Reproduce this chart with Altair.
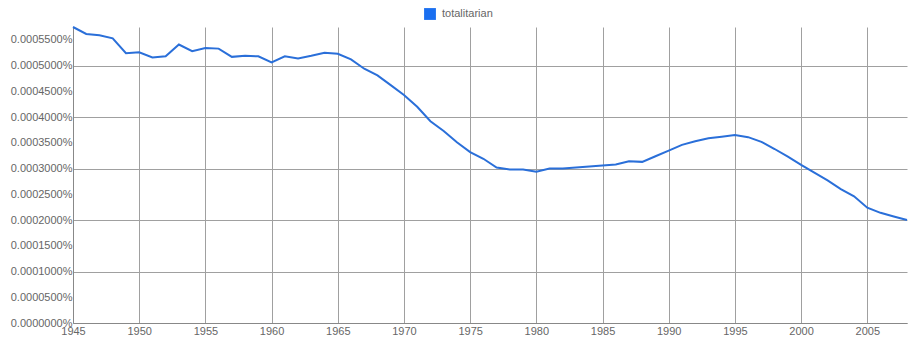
import altair as alt
import pandas as pd

years = list(range(1945, 2009))
values = [
    0.000575, 0.0005615, 0.000559, 0.000553, 0.000524, 0.000526, 0.000516, 0.000518,
    0.000541, 0.000528, 0.000534, 0.000533, 0.000517, 0.000519, 0.000518, 0.000506,
    0.000518, 0.000514, 0.000519, 0.000525, 0.000523, 0.000512, 0.000494, 0.000481,
    0.000462, 0.000443, 0.000420, 0.000392, 0.000373, 0.000351, 0.000332, 0.000319,
    0.000302, 0.000298, 0.000298, 0.000294, 0.000300, 0.000300, 0.000302, 0.000304,
    0.000306, 0.000308, 0.000314, 0.000313, 0.000324, 0.000335, 0.000346, 0.000353,
    0.000359, 0.000362, 0.000365, 0.000361, 0.000352, 0.000338, 0.000323, 0.000307,
    0.000292, 0.000277, 0.000260, 0.000246, 0.000224, 0.000214, 0.000207, 0.000200,
]
series = ["totalitarian"] * len(years)
x_ticks = list(range(1945, 2006, 5))
y_ticks = [i * 0.00005 for i in range(12)]

df = pd.DataFrame({"year": years, "value": values, "series": series})

FONT = "Liberation Sans"
LABEL = "#666666"
GRID = "#a0a0a0"

chart = alt.Chart(df).mark_line(strokeWidth=2).encode(
    x=alt.X(
        "year:Q",
        scale=alt.Scale(domain=[1945, 2008], nice=False, zero=False),
        axis=alt.Axis(
            values=x_ticks, format="d", title=None, ticks=False,
            labelPadding=2, labelFontSize=11, labelColor=LABEL, labelFont=FONT,
            grid=True, gridColor=GRID, domainColor="#888888",
            labelFlush=False, labelOverlap=False,
        ),
    ),
    y=alt.Y(
        "value:Q",
        scale=alt.Scale(domain=[0, 0.000575], nice=False),
        axis=alt.Axis(
            values=y_ticks, title=None, ticks=False,
            labelExpr="format(datum.value, '.7f') + '%'",
            labelPadding=1, labelFontSize=11, labelColor=LABEL, labelFont=FONT,
            grid=True,
            gridColor={"condition": {"test": "round(datum.value * 1e6) % 100 == 0", "value": GRID}, "value": "transparent"},
            domainColor="#888888", labelFlush=False, labelOverlap=False,
        ),
    ),
    color=alt.Color(
        "series:N",
        scale=alt.Scale(range=["#2a6fd9"]),
        legend=alt.Legend(
            title=None, orient="none", legendX=351, legendY=-19,
            symbolType="square", symbolSize=140, symbolFillColor="#1a6ff0",
            symbolStrokeWidth=0, labelFontSize=11, labelColor=LABEL, labelFont=FONT,
            symbolOffset=0, labelOffset=6,
        ),
    ),
).properties(
    width=834, height=296,
    autosize=alt.AutoSizeParams(type="none"),
    padding={"left": 73, "top": 27, "right": 13, "bottom": 25},
).configure_view(stroke=None)

chart.save("out.html", embed_options={"renderer": "svg", "actions": False})
